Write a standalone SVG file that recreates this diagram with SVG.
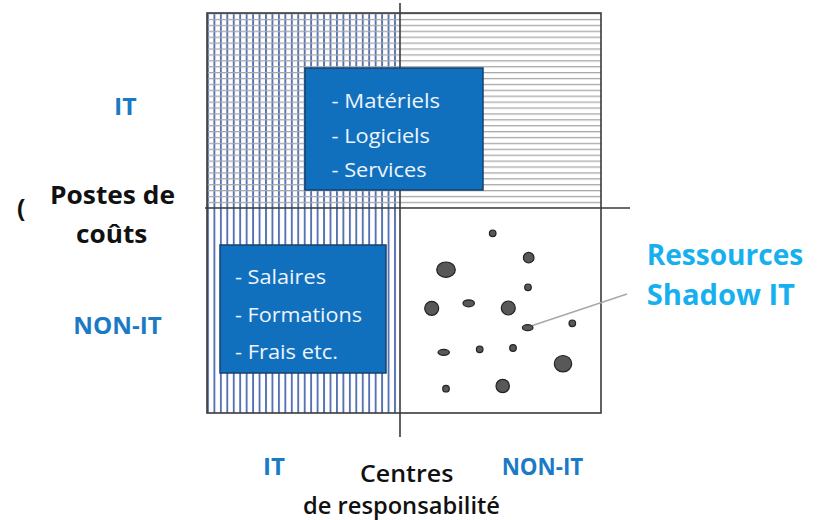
<svg xmlns="http://www.w3.org/2000/svg" width="822" height="520" viewBox="0 0 822 520">
<defs>
<pattern id="vlines" x="207" y="0" width="6.45" height="10" patternUnits="userSpaceOnUse">
<rect x="0" y="0" width="1.9" height="10" fill="#5672b2"/>
</pattern>
<pattern id="hlines" x="0" y="13" width="10" height="5.9" patternUnits="userSpaceOnUse">
<rect x="0" y="0" width="10" height="1.3" fill="#a8a8a8"/>
</pattern>
<style>
.ax{stroke:#3a3a3a;stroke-width:1.6;fill:none}
.box{fill:#1170be;stroke:#15416e;stroke-width:1.5}
text{font-family:"Open Sans","Noto Sans",sans-serif}
.bt{font-size:19.5px;fill:#eef4fb}
.lab{font-weight:bold;font-size:24px;fill:#1b7ac6}
.ttl{font-weight:bold;font-size:25px;fill:#111}
.sub{font-size:23px;fill:#111;font-weight:600}
.sh{font-weight:bold;font-size:28px;fill:#17b0ef}
.dot{fill:#585858;stroke:#222;stroke-width:1.2}
</style>
</defs>
<g id="grid">
<rect x="207" y="13" width="193" height="400" fill="url(#vlines)"/>
<rect x="207" y="13" width="394" height="195" fill="url(#hlines)"/>
<rect x="207" y="13" width="394" height="400" class="ax"/>
</g>
<g id="connectors">
<line x1="400" y1="3" x2="400" y2="437" class="ax"/>
<line x1="205" y1="208" x2="630" y2="208" class="ax"/>
<line x1="531" y1="326" x2="627" y2="294" stroke="#a8a8a8" stroke-width="1.6"/>
</g>
<g id="box-it">
<rect x="305" y="68" width="178" height="122" class="box"/>
<text class="bt" x="331.5" y="108" textLength="108.5" lengthAdjust="spacingAndGlyphs">- Matériels</text>
<text class="bt" x="331.5" y="142.5" textLength="98.5" lengthAdjust="spacingAndGlyphs">- Logiciels</text>
<text class="bt" x="331.5" y="176.5" textLength="95" lengthAdjust="spacingAndGlyphs">- Services</text>
</g>
<g id="box-nonit">
<rect x="220" y="245" width="166" height="128" class="box"/>
<text class="bt" x="235" y="284" textLength="91" lengthAdjust="spacingAndGlyphs">- Salaires</text>
<text class="bt" x="235" y="321.5" textLength="127" lengthAdjust="spacingAndGlyphs">- Formations</text>
<text class="bt" x="235" y="358.5" textLength="103" lengthAdjust="spacingAndGlyphs">- Frais etc.</text>
</g>
<g id="shadow-it">
<circle class="dot" cx="492.7" cy="233.3" r="3.3"/>
<circle class="dot" cx="528.7" cy="257.7" r="5.3"/>
<ellipse class="dot" cx="446" cy="269.7" rx="9.3" ry="7.7"/>
<circle class="dot" cx="528" cy="287.3" r="3.3"/>
<circle class="dot" cx="431.7" cy="308.3" r="7"/>
<ellipse class="dot" cx="468.7" cy="303.3" rx="5.7" ry="3.5"/>
<circle class="dot" cx="508.3" cy="308" r="7"/>
<ellipse class="dot" cx="527.7" cy="327.7" rx="5.3" ry="3"/>
<circle class="dot" cx="572.3" cy="323.3" r="3.3"/>
<ellipse class="dot" cx="443.7" cy="352.3" rx="5.7" ry="3"/>
<circle class="dot" cx="479.7" cy="349.3" r="3.3"/>
<circle class="dot" cx="513" cy="348" r="3.3"/>
<ellipse class="dot" cx="563" cy="363.7" rx="8.7" ry="8.2"/>
<circle class="dot" cx="446" cy="388.7" r="3.3"/>
<circle class="dot" cx="502.7" cy="386" r="6.7"/>
</g>
<g id="labels">
<text class="lab" x="114" y="115" textLength="22.7" lengthAdjust="spacingAndGlyphs">IT</text>
<text class="lab" x="73.3" y="334" textLength="88.4" lengthAdjust="spacingAndGlyphs">NON-IT</text>
<text class="ttl" x="17" y="217">(</text>
<text class="ttl" x="50" y="204" textLength="125" lengthAdjust="spacingAndGlyphs">Postes de</text>
<text class="ttl" x="76" y="242.5" textLength="71.3" lengthAdjust="spacingAndGlyphs">coûts</text>
<text class="lab" x="263" y="475" textLength="22" lengthAdjust="spacingAndGlyphs">IT</text>
<text class="lab" x="501.7" y="475" textLength="81.6" lengthAdjust="spacingAndGlyphs">NON-IT</text>
<text class="sub" x="360" y="482" textLength="93.3" lengthAdjust="spacingAndGlyphs">Centres</text>
<text class="sub" x="303" y="514" textLength="197" lengthAdjust="spacingAndGlyphs">de responsabilité</text>
<text class="sh" x="646.7" y="265" textLength="156.6" lengthAdjust="spacingAndGlyphs">Ressources</text>
<text class="sh" x="646.7" y="305" textLength="148.3" lengthAdjust="spacingAndGlyphs">Shadow IT</text>
</g>
</svg>
